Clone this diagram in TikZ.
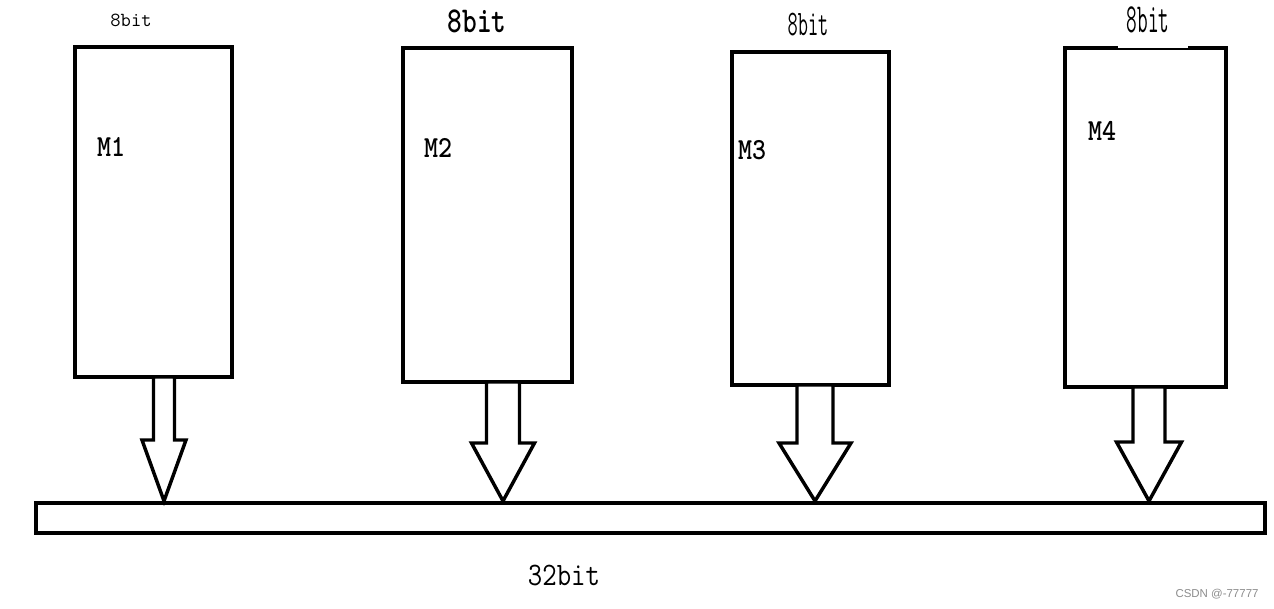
\documentclass[tikz,border=0pt]{standalone}
\usepackage{fontspec}
\newfontfamily\wmfont{Liberation Sans}
\newcommand\blockarr[6]{%
  \draw[barrow] ({#1-#2},#3) -- ({#1-#2},#4) -- ({#1-#5},#4) -- (#1,#6) -- ({#1+#5},#4) -- ({#1+#2},#4) -- ({#1+#2},#3) -- cycle;}
\begin{document}
\begin{tikzpicture}[x=0.75pt,y=-0.75pt,
  membox/.style 2 args={draw, line width=3pt, inner sep=0pt, outer sep=0pt,
    minimum width={#1*0.75pt}, minimum height={#2*0.75pt}},
  barrow/.style={draw, fill=white, line width=2.6pt, line join=miter},
  lbl/.style={inner sep=0pt, font=\ttfamily},
]
\useasboundingbox (0,0) rectangle (1274,609);
% memory boxes
\node[membox={157}{330}] (m1) at (153.5,212) {};
\node[membox={169}{334}] (m2) at (487.5,215) {};
\node[membox={157}{333}] (m3) at (810.5,218.5) {};
\node[membox={161}{339}] (m4) at (1145.5,217.5) {};
% gap in top edge of M4
\fill[white] (1118,44) rectangle (1188,47.6);
% bus
\node[membox={1229}{30}] (bus) at (650.5,518) {};
% block arrows
\blockarr{164}{10.5}{377}{440}{22}{501}
\blockarr{503}{16.5}{382}{443}{31.5}{501}
\blockarr{815}{18}{385}{443}{36}{501}
\blockarr{1149}{16}{387}{442}{32.5}{501}
% width labels
\node[lbl] (w1) at (131,20) {\fontsize{15}{15}\selectfont 8bit};
\node[lbl] (w2) at (477,21) {\fontsize{21}{21}\selectfont\bfseries\scalebox{1}[1.3]{8bit}};
\node[lbl] (w3) at (808,25) {\fontsize{27}{27}\selectfont\scalebox{0.55}[1]{8bit}};
\node[lbl] (w4) at (1148,20) {\fontsize{31}{31}\selectfont\scalebox{0.5}[1]{8bit}};
% memory names
\node[lbl] (n1) at (111,147) {\fontsize{20}{20}\selectfont\bfseries\scalebox{1}[1.15]{M1}};
\node[lbl] (n2) at (438,148) {\fontsize{20}{20}\selectfont\bfseries\scalebox{1}[1.15]{M2}};
\node[lbl] (n3) at (752,150) {\fontsize{20}{20}\selectfont\bfseries\scalebox{1}[1.15]{M3}};
\node[lbl] (n4) at (1102,131) {\fontsize{20}{20}\selectfont\bfseries\scalebox{1}[1.15]{M4}};
% bus label
\node[lbl] (bl) at (564,575) {\fontsize{21}{21}\selectfont\scalebox{1}[1.17]{32bit}};
% watermark
\node[inner sep=0pt, text=black!45, font=\wmfont\fontsize{8.6}{8.6}\selectfont] (wm) at (1217,594) {CSDN @-77777};
\end{tikzpicture}
\end{document}
